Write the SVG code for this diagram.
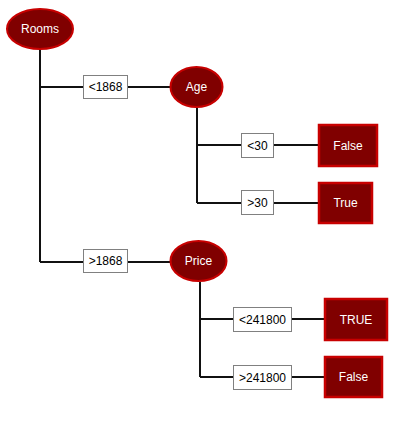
<svg xmlns="http://www.w3.org/2000/svg" width="417" height="430" viewBox="0 0 417 430">
<style>
.ell{fill:#800000;stroke:#c80000;stroke-width:2}
.leaf{fill:#800000;stroke:#c80000;stroke-width:2.5}
.lbl{fill:#fff;stroke:#808080;stroke-width:1}
.wt{font-family:"Liberation Sans",Arial,sans-serif;font-size:12px;fill:#fff;text-anchor:middle;dominant-baseline:central}
.bt{font-family:"Liberation Sans",Arial,sans-serif;font-size:12px;fill:#000;text-anchor:middle;dominant-baseline:central}
.ln{stroke:#111;stroke-width:2;fill:none}
</style>
<rect width="417" height="430" fill="#fff"/>
<g id="connectors">
<path class="ln" d="M40,50V262M40,87H83M128,87H171M40,262H83M128,262H170"/>
<path class="ln" d="M197,108V203M197,145H241M274,145H318M197,203H241M274,203H318"/>
<path class="ln" d="M200,282V377M200,319H233M292,319H324M200,377H233M292,377H324"/>
</g>
<g id="rooms"><ellipse class="ell" cx="40" cy="29" rx="33" ry="20"/><text class="wt" x="40" y="29">Rooms</text></g>
<g id="lbl-lt1868"><rect class="lbl" x="83.5" y="75.5" width="44" height="23"/><text class="bt" x="105.5" y="87">&lt;1868</text></g>
<g id="lbl-gt1868"><rect class="lbl" x="83.5" y="249.5" width="44" height="23"/><text class="bt" x="105.5" y="261">&gt;1868</text></g>
<g id="age"><ellipse class="ell" cx="196.5" cy="87" rx="26" ry="20"/><text class="wt" x="196.5" y="87">Age</text></g>
<g id="price"><ellipse class="ell" cx="198.5" cy="261" rx="28" ry="20"/><text class="wt" x="198.5" y="261">Price</text></g>
<g id="lbl-lt30"><rect class="lbl" x="241.5" y="133.5" width="32" height="24"/><text class="bt" x="257.5" y="145.5">&lt;30</text></g>
<g id="lbl-gt30"><rect class="lbl" x="241.5" y="190.5" width="32" height="24"/><text class="bt" x="257.5" y="202.5">&gt;30</text></g>
<g id="false1"><rect class="leaf" x="319" y="125" width="58" height="41"/><text class="wt" x="348" y="145.5">False</text></g>
<g id="true1"><rect class="leaf" x="319" y="183" width="53" height="40"/><text class="wt" x="345.5" y="203">True</text></g>
<g id="lbl-lt241800"><rect class="lbl" x="233.5" y="307.5" width="58" height="24"/><text class="bt" x="262.5" y="319.5">&lt;241800</text></g>
<g id="lbl-gt241800"><rect class="lbl" x="233.5" y="365.5" width="58" height="24"/><text class="bt" x="262.5" y="377.5">&gt;241800</text></g>
<g id="true2"><rect class="leaf" x="325" y="299" width="62" height="41"/><text class="wt" x="356" y="319.5">TRUE</text></g>
<g id="false2"><rect class="leaf" x="325" y="357" width="57" height="40"/><text class="wt" x="353.5" y="377">False</text></g>
</svg>
